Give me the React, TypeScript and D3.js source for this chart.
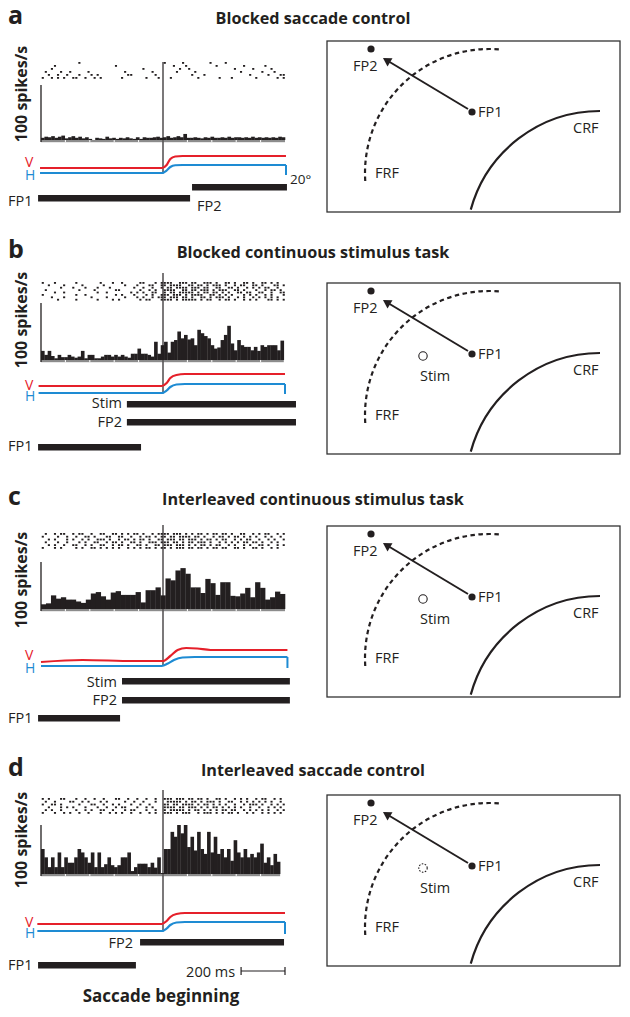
import React from 'react';
import * as d3 from 'd3';

// ---------------- data ----------------
const panelLetters = ['a', 'b', 'c', 'd'];
const panelTitles = [
  'Blocked saccade control',
  'Blocked continuous stimulus task',
  'Interleaved continuous stimulus task',
  'Interleaved saccade control',
];

// PSTH bin heights (spikes/s), time relative to saccade onset
const histA = [4,6,5,7,4,6,8,3,5,7, 4,6,3,5,2,0,4,3,2,6, 3,4,2,4,3,5,3,2,5,2, 5,4,4,5,6,4,5,7,4,5, 7,5,11,4,4,5,4,3,5,4, 6,4,4,5,4,6,4,5,5,4, 5,4,6,4,5,4,5,4,5,4, 6,5];
const histB = [16,9,16,7,3,9,5,5,9,6, 4,6,16,3,9,9,3,3,6,9, 9,6,9,6,9,6,4,11,11,20, 11,11,9,6,32,11,26,32,13,32, 35,50,38,44,36,38,26,53,47,42, 38,26,20,22,35,44,60,29,17,35, 26,23,23,17,23,16,26,23,26,26, 26,17,34];
const histC = [10,12,29,22,25,20,20,16,13,20, 33,36,27,20,35,38,30,30,30,36, 14,40,40,46,29,65,61,82,87,75, 46,46,34,64,55,30,57,57,28,27, 33,45,25,57,45,20,25,37,32];
const histD = [51,34,14,34,14,44,14,34,23,23, 34,51,44,34,23,44,14,44,14,20, 34,18,14,18,34,34,44,6,14,21, 21,21,14,23,13,34,2,51,51,86, 76,100,83,100,55,76,48,86,51,41, 86,44,76,41,51,34,51,27,69,44, 34,51,34,41,34,44,62,23,34,18, 41,25];
const histRanges: [number, number][] = [[-500, 500], [-500, 495], [-500, 500], [-500, 480]];

// Spike rasters: one string per trial, 80 columns of 12.5 ms starting at -500 ms
const rasterA = [
  '..........' + '..x.......' + '..........' + '..........' + 'x.....x...' + '.....x....' + 'x.........' + '..........',
  '....x.....' + '..........' + '....x.....' + '..........' + '...x...x..' + '.......x..' + '......x...' + '...x......',
  '...x......' + '..........' + '..........' + '...x......' + '.....x..x.' + '..........' + '...x.....x' + '.....x....',
  '.x....x..x' + '.....x....' + '.......x..' + '......x...' + '....x.....' + 'x.........' + '.....x....' + '..x...x...',
  '..x..x..x.' + '..x...x.x.' + '........xx' + '.......x..' + '.........x' + '...x......' + '........x.' + '....x...xx',
  'x..x.x.x..' + 'xx..x..x.x' + '......x...' + '....x...x.' + '..x.......' + '.x......x.' + '..x.......' + 'x......x.x',
];
const rasterB = [
  'x...x.....' + '.x.......x' + '...x..x...' + '..xx...x.x' + 'xxx..xxx.x' + 'x..xxx.x..' + 'xx.x..xx.x' + '..xx.x.x..',
  '..x....x..' + '...x......' + 'x......x..' + '.x...xx..x' + 'x.xxxx..xx' + '.xx.x.xxx.' + 'x..x.xx..x' + 'x.x...xx.x',
  '......x...' + 'x...x...x.' + '..x.......' + 'x..x..x..x' + '.xx.xxxx.x' + 'xx.xx..xx.' + '.xx.x..x.x' + '.x.xx..x..',
  '.x........' + '..x....x..' + '....xx....' + '..x..x.x..' + 'xxxx..xx.x' + 'x.xxx.x.xx' + 'x..xx.x...' + 'x..x.xx.x.',
  '....x..x..' + '........x.' + '.x.......x' + '.x.x..xx..' + 'x.xx.xxxxx' + '.x.xx.xx.x' + '.x..xx.xx.' + '.xx..x..xx',
  'x.........' + '.x..x.....' + '....x.x...' + 'x...x.x..x' + 'xx.xxx.x.x' + 'xxx..xx.x.' + 'x.x...x.x.' + 'x..x.x...x',
  '...x...x..' + '......x...' + '.x.....x..' + '.x.x..x.xx' + 'x.xxx.xx.x' + '..xx.x.xxx' + '.x..x.x..x' + '.x.x.x.x..',
  '.....x....' + '.x......x.' + '...x.x....' + '..x.xx...x' + 'xxx.x.xxxx' + 'x.x.xx..x.' + 'xx.x..x.x.' + 'x...xx.x.x',
];
const rasterC = [
  '.x..x.xx..' + 'x.xx..x..x' + 'x..xx.x.x.' + 'xx.x..x.xx' + 'xx.xxx.x.x' + '.xx.x.xx.x' + 'x.x..xx..x' + '.x.xx..x.x',
  'x....x..x.' + '.x..xx.x..' + '.xx..xx..x' + '..x.xx.x.x' + 'x.xx.xxxx.' + 'xx.x..x.xx' + '.x.xx.x.x.' + 'x..x.x..x.',
  '..x.x...x.' + 'x..x.x..xx' + 'x.x..x.xx.' + 'x.xx.x..xx' + '.xxx.xx.xx' + 'x.x.xx.x.x' + 'x..x.x.xx.' + '.x..x.x..x',
  '.x...x..x.' + '..x.x..xx.' + '.x.xx.x..x' + 'x.x..xxx.x' + 'xx.xx.x.xx' + '.xxx.x..x.' + 'x.x.x.xx.x' + 'x.x..x.x..',
  '..x.x..x..' + 'xx..x.x..x' + 'x..x.xx.x.' + '.xx.x..xx.' + 'xxx.xxx.x.' + 'x.xx.x.xx.' + '.x.x..x.x.' + '.xx.x..x.x',
  'x...x.x...' + '.x.x..xx.x' + '.x.x.x..x.' + 'x.x.xx.x.x' + 'x.x.xxx.xx' + '.xx.x.xx.x' + 'x..xx.x..x' + 'x.x..x.x..',
];
const rasterD = [
  'x.x...xx..' + '.x..x..x..' + 'x...xx..x.' + '.x..x..x..' + 'xxx.xxx.xx' + '.xx.x..xx.' + 'x..x.x.x..' + 'x.xx..x.x.',
  '.x..x....x' + 'x..x.x...x' + '.x.....x..' + 'x..x...x..' + '.xxxxx.x.x' + 'x.x.xxx.x.' + '.xx..x.x.x' + '.x.x.x..x.',
  'x..xx.x...' + '..x...xx..' + 'x..x.x...x' + '..x..x....' + 'xx.xx.xxxx' + '.x.xx.x.x.' + 'x..x..x.xx' + 'x.x..x.x.x',
  '..x...x.x.' + 'x...x...x.' + '.x..x.xx..' + '.x..x.x...' + 'xxxx.xx.xx' + 'x.x.x.xx.x' + '.x.x.x..x.' + '.x..x.x.x.',
  '.x.x..x...' + '.x..x.x..x' + 'x..x...x.x' + 'x...x..x..' + 'x.xxxxx.x.' + 'xx.x.x.x.x' + 'x.xx..x.x.' + 'x.x.x..x.x',
  'x...x..x.x' + '..x..x...x' + '..x.x.x..x' + '..x..x.x..' + 'xxx.x.xxx.' + '.x.xxx.x.x' + '.xx.x..x.x' + '..x.x.x.x.',
];
const rasters = [rasterA, rasterB, rasterC, rasterD];
const hists = [histA, histB, histC, histD];

// Eye traces (degrees, relative to pre-saccadic horizontal position) vs time (ms)
const eyeH_A: [number, number][] = [[-504, 0], [-5, 0], [15, 5], [30, 12], [50, 15.5], [80, 16], [504, 16]];
const eyeV_A: [number, number][] = [[-504, 10], [-5, 10], [15, 16], [30, 28], [50, 33], [80, 34], [504, 34]];
const eyeH_B: [number, number][] = [[-510, 0], [-5, 0], [15, 5], [30, 12], [55, 17], [90, 18], [500, 18]];
const eyeV_B: [number, number][] = [[-510, 14], [-5, 14], [15, 20], [30, 30], [55, 36], [90, 38], [500, 38]];
const eyeH_C: [number, number][] = [[-500, 0], [-5, 0], [20, 5], [45, 12], [80, 17], [130, 18], [510, 18]];
const eyeV_C: [number, number][] = [[-500, 8], [-330, 12], [-120, 10], [0, 10], [30, 20], [60, 32], [95, 36], [140, 35], [195, 32], [510, 32]];
const eyeH_D: [number, number][] = [[-515, 0], [-5, 0], [15, 5], [30, 12], [55, 17], [90, 18], [500, 18]];
const eyeV_D: [number, number][] = [[-515, 14], [-5, 14], [15, 20], [30, 28], [55, 34], [90, 36], [500, 36]];
const eyeH = [eyeH_A, eyeH_B, eyeH_C, eyeH_D];
const eyeV = [eyeV_A, eyeV_B, eyeV_C, eyeV_D];
const eyeEndDrop = [-4, -2, -4, -6];

// Task event timing bars (ms)
const eventsA = [{ label: 'FP2', start: 119, end: 508 }, { label: 'FP1', start: -512, end: 111 }];
const eventsB = [{ label: 'Stim', start: -148, end: 545 }, { label: 'FP2', start: -148, end: 545 }, { label: 'FP1', start: -512, end: -90 }];
const eventsC = [{ label: 'Stim', start: -168, end: 520 }, { label: 'FP2', start: -168, end: 520 }, { label: 'FP1', start: -512, end: -176 }];
const eventsD = [{ label: 'FP2', start: -94, end: 496 }, { label: 'FP1', start: -512, end: -111 }];
const events = [eventsA, eventsB, eventsC, eventsD];

const stimStyle = [null, 'solid', 'solid', 'dashed'];
const scaleBar = { label: '200 ms', start: 320, end: 500 };

// ---------------- layout ----------------
const layout = [
  { letterY: 24, boxTop: 41, rasterTop: 62, rowH: 3, sacTop: 62, histTop: 85, histBase: 140, spikesY: 94, hZero: 173, vLabelY: 167, hLabelY: 180,
    bars: [{ y: 184, lx: 197, ly: 211, anchor: 'start' }, { y: 195, lx: 8, ly: 206, anchor: 'start' }] },
  { letterY: 258, boxTop: 283, rasterTop: 282, rowH: 2.4, sacTop: 273, histTop: 303, histBase: 360, spikesY: 320, hZero: 393, vLabelY: 390, hLabelY: 401,
    bars: [{ y: 401, lx: 122, ly: 408, anchor: 'end' }, { y: 419, lx: 122, ly: 427, anchor: 'end' }, { y: 444, lx: 8, ly: 451, anchor: 'start' }] },
  { letterY: 505, boxTop: 526, rasterTop: 533, rowH: 2.8, sacTop: 525, histTop: 562, histBase: 609, spikesY: 580, hZero: 666, vLabelY: 660, hLabelY: 673,
    bars: [{ y: 678, lx: 117, ly: 687, anchor: 'end' }, { y: 697, lx: 117, ly: 705, anchor: 'end' }, { y: 715, lx: 8, ly: 723, anchor: 'start' }] },
  { letterY: 776, boxTop: 795, rasterTop: 798, rowH: 2.8, sacTop: 790, histTop: 825, histBase: 874, spikesY: 840, hZero: 931, vLabelY: 927, hLabelY: 938,
    bars: [{ y: 939, lx: 133, ly: 948, anchor: 'end' }, { y: 962, lx: 8, ly: 970, anchor: 'start' }] },
];

const FONT = "'Open Sans', 'Noto Sans', sans-serif";
const RED = '#e5202a';
const BLUE = '#1e8bd3';
const INK = '#231f20';

const x = d3.scaleLinear().domain([-500, 500]).range([41, 285]);

function LeftPanel({ i }: { i: number }) {
  const L = layout[i];
  const y = d3.scaleLinear().domain([0, 100]).range([L.histBase, L.histTop]);
  const hist = hists[i];
  const [h0, h1] = histRanges[i];
  const w = (h1 - h0) / hist.length;
  const yE = d3.scaleLinear().domain([0, 20]).range([L.hZero, L.hZero - 10]);
  const line = d3.line<[number, number]>().x(d => x(d[0])).y(d => yE(d[1])).curve(d3.curveMonotoneX);
  const hT = eyeH[i];
  const last = hT[hT.length - 1];
  const colMs = 12.5;
  const ticks = d3.range(-400, h1, 100);
  return (
    <g>
      <text x={8} y={L.letterY} fontSize={25} fontWeight={700} fill={INK}>{panelLetters[i]}</text>
      <text x={313} y={L.letterY} fontSize={16.2} fontWeight={700} textAnchor="middle" fill={INK}>{panelTitles[i]}</text>
      <text transform={`translate(27,${L.spikesY}) rotate(-90)`} fontSize={16} fontWeight={700} textAnchor="middle" fill={INK}>100 spikes/s</text>
      {/* raster */}
      {rasters[i].map((row, r) =>
        row.split('').map((c, k) => c === 'x' ? (
          <rect key={`${r}-${k}`} x={x(-500 + k * colMs + 3)} y={L.rasterTop + r * L.rowH} width={2.1} height={1.8} fill={INK} />
        ) : null)
      )}
      {/* histogram */}
      {hist.map((v, k) => (
        <rect key={k} x={x(h0 + k * w)} y={y(v)} width={x(h0 + (k + 1) * w) - x(h0 + k * w) + 0.3} height={L.histBase - y(v)} fill={INK} />
      ))}
      <rect x={x(-500)} y={L.histBase} width={x(h1) - x(-500)} height={2.2} fill="#8c8c8c" />
      {ticks.map(t => <rect key={t} x={x(t) - 0.5} y={L.histBase} width={1} height={2.2} fill="#fff" />)}
      <line x1={x(-500)} x2={x(-500)} y1={L.histTop} y2={L.histBase + 2} stroke={INK} strokeWidth={1.3} />
      {/* saccade onset */}
      <line x1={x(0)} x2={x(0)} y1={L.sacTop} y2={L.hZero} stroke={INK} strokeWidth={1.2} />
      {/* eye traces */}
      <path d={line(eyeV[i]) || ''} fill="none" stroke={RED} strokeWidth={2.2} />
      <path d={line(hT) || ''} fill="none" stroke={BLUE} strokeWidth={2.2} />
      <line x1={x(last[0])} x2={x(last[0])} y1={yE(last[1])} y2={yE(eyeEndDrop[i])} stroke={BLUE} strokeWidth={2} />
      <text x={25} y={L.vLabelY} fontSize={14} fill={RED}>V</text>
      <text x={25} y={L.hLabelY} fontSize={14} fill={BLUE}>H</text>
      {i === 0 && <text x={290} y={184} fontSize={13.5} fill={INK}>20°</text>}
      {/* event bars */}
      {events[i].map((e, k) => {
        const B = L.bars[k];
        return (
          <g key={k}>
            <rect x={x(e.start)} y={B.y} width={x(e.end) - x(e.start)} height={6.5} fill={INK} />
            <text x={B.lx} y={B.ly} fontSize={14.5} textAnchor={B.anchor as any} fill={INK}>{e.label}</text>
          </g>
        );
      })}
      {i === 3 && (
        <g>
          <text x={x(scaleBar.start) - 6} y={977} fontSize={14.5} textAnchor="end" fill={INK}>{scaleBar.label}</text>
          <line x1={x(scaleBar.start)} x2={x(scaleBar.end)} y1={971} y2={971} stroke={INK} strokeWidth={1.2} />
          <line x1={x(scaleBar.start)} x2={x(scaleBar.start)} y1={967} y2={975} stroke={INK} strokeWidth={1.2} />
          <line x1={x(scaleBar.end)} x2={x(scaleBar.end)} y1={967} y2={975} stroke={INK} strokeWidth={1.2} />
          <text x={161} y={1002} fontSize={17} fontWeight={700} textAnchor="middle" fill={INK}>Saccade beginning</text>
        </g>
      )}
    </g>
  );
}

function RightPanel({ i }: { i: number }) {
  const T = layout[i].boxTop;
  const frf = d3.path();
  frf.arc(489, T + 132, 124, Math.atan2(8, -124), 2 * Math.PI + Math.atan2(-123, 11), false);
  const crf = d3.path();
  crf.arc(600, T + 204, 134, Math.atan2(-35, -128), -Math.PI / 2, false);
  const st = stimStyle[i];
  return (
    <g>
      <rect x={327} y={T} width={293} height={171} fill="none" stroke="#333" strokeWidth={1.3} />
      <path d={frf.toString()} fill="none" stroke={INK} strokeWidth={2.2} strokeDasharray="4.5 3.5" />
      <path d={crf.toString()} fill="none" stroke={INK} strokeWidth={2.2} />
      <circle cx={371} cy={T + 8} r={3.6} fill={INK} />
      <circle cx={472} cy={T + 71} r={3.6} fill={INK} />
      <line x1={468} y1={T + 68} x2={388} y2={T + 20} stroke={INK} strokeWidth={2} />
      <path d={`M ${383} ${T + 17} L ${392.5} ${T + 17.3} L ${387.5} ${T + 25.6} Z`} fill={INK} />
      <text x={353} y={T + 30} fontSize={14.5} fill={INK}>FP2</text>
      <text x={478} y={T + 76} fontSize={14.5} fill={INK}>FP1</text>
      <text x={375} y={T + 137} fontSize={14.5} fill={INK}>FRF</text>
      <text x={573} y={T + 92} fontSize={14.5} fill={INK}>CRF</text>
      {st && (
        <g>
          <circle cx={423} cy={T + 73} r={4.2} fill="#fff" stroke={INK} strokeWidth={1.1} strokeDasharray={st === 'dashed' ? '1.6 1.4' : undefined} />
          <text x={420} y={T + 98} fontSize={14.5} fill={INK}>Stim</text>
        </g>
      )}
    </g>
  );
}

export default function App() {
  return (
    <svg width={630} height={1017} viewBox="0 0 630 1017" style={{ position: 'absolute', left: 0, top: 0, display: 'block', background: '#fff' }} fontFamily={FONT}>
      <rect x={0} y={0} width={630} height={1017} fill="#fff" />
      {[0, 1, 2, 3].map(i => (
        <g key={i}>
          <LeftPanel i={i} />
          <RightPanel i={i} />
        </g>
      ))}
    </svg>
  );
}
